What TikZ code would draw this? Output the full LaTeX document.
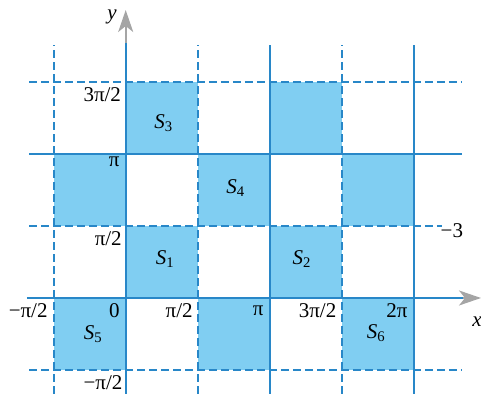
\documentclass[tikz,border=0pt]{standalone}
\usepackage{fontspec}
\setmainfont{Liberation Serif}
\usepackage{tikz}
\usetikzlibrary{arrows.meta}
\definecolor{gridblue}{RGB}{40,135,200}
\definecolor{cellblue}{RGB}{128,206,242}
\definecolor{axisgray}{RGB}{165,165,165}
\newcommand{\sreg}[1]{\textit{S}\textsubscript{#1}}

\begin{document}
\begin{tikzpicture}[x=36pt, y=36pt, font=\fontsize{10.5}{12}\selectfont,
  solidline/.style={gridblue, line width=1pt},
  dashline/.style={gridblue, line width=0.9pt, dash pattern=on 4pt off 2pt},
  axisarrow/.style={axisgray, line width=1pt, -{Stealth[length=11pt,width=7.5pt,inset=3pt]}},
  ticklabel/.style={anchor=east, inner sep=0pt}]
\useasboundingbox (-1.746,-1.333) rectangle (4.935,4.139);
% shaded cells
\foreach \cx/\cy in {0/2, 2/2, -1/1, 1/1, 3/1, 0/0, 2/0, -1/-1, 1/-1, 3/-1}
  \fill[cellblue] (\cx,\cy) rectangle ++(1,1);
% dashed grid lines
\foreach \k in {-1,1,3}
  \draw[dashline] (\k,-1.333) -- (\k,3.514);
\foreach \k in {-1,3}
  \draw[dashline] (-1.343,\k) -- (4.67,\k);
\draw[dashline] (-1.343,1) -- (4.39,1);
% solid grid lines
\foreach \k in {2,4}
  \draw[solidline] (\k,-1.333) -- (\k,3.514);
\draw[solidline] (-1.343,2) -- (4.67,2);
% axes
\draw[solidline] (0,-1.333) -- (0,3.54);
\draw[axisarrow] (0,3.54) -- (0,4.0);
\draw[solidline] (-1.373,0) -- (4.685,0);
\draw[axisarrow] (4.685,0) -- (4.935,0);
\node (ylab) at (-0.19,3.90) {\textit{y}};
\node (xlab) at (4.88,-0.33) {\textit{x}};
% tick labels
\node[ticklabel] (ty3) at (-0.06,2.82) {3π/2};
\node[ticklabel] (ty2) at (-0.08,1.89) {π};
\node[ticklabel] (ty1) at (-0.05,0.82) {π/2};
\node[ticklabel] (t0) at (-0.08,-0.17) {0};
\node[ticklabel] (tym) at (-0.04,-1.17) {−π/2};
\node[ticklabel] (txm) at (-1.08,-0.18) {−π/2};
\node[ticklabel] (tx1) at (0.935,-0.18) {π/2};
\node[ticklabel] (tx2) at (1.92,-0.18) {π};
\node[ticklabel] (tx3) at (2.93,-0.18) {3π/2};
\node[ticklabel] (tx4) at (3.92,-0.18) {2π};
\node (tc) at (4.53,0.94) {−3};
% region labels
\node (s1) at (0.55,0.54) {\sreg{1}};
\node (s2) at (2.45,0.54) {\sreg{2}};
\node (s3) at (0.53,2.43) {\sreg{3}};
\node (s4) at (1.53,1.53) {\sreg{4}};
\node (s5) at (-0.45,-0.5) {\sreg{5}};
\node (s6) at (3.48,-0.49) {\sreg{6}};
\end{tikzpicture}
\end{document}
